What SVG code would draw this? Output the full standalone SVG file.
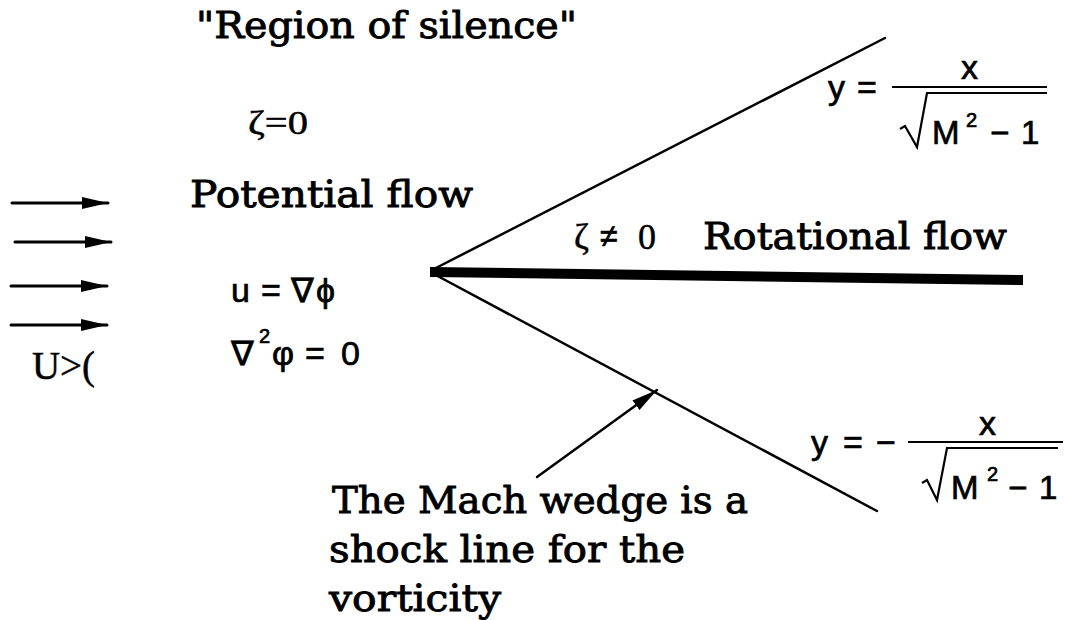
<svg xmlns="http://www.w3.org/2000/svg" width="1065" height="620" viewBox="0 0 1065 620">
<defs>
<style>
.txt{font-family:"DejaVu Serif","Liberation Serif",serif;font-size:38px;fill:#000;stroke:#000;stroke-width:0.9px}
.ser{font-family:"Liberation Serif","DejaVu Serif",serif;fill:#000;stroke:#000;stroke-width:0.5px}
.math{font-family:"Liberation Sans","DejaVu Sans",sans-serif;fill:#000;stroke:#000;stroke-width:0.7px}
.ln{stroke:#000;stroke-width:2.5;fill:none;stroke-linecap:round}
.fl{stroke:#000;stroke-width:3;fill:none;stroke-linecap:round}
.bar{stroke:#000;stroke-width:2.2;fill:none}
</style>
<marker id="ah" markerUnits="userSpaceOnUse" markerWidth="28" markerHeight="14" refX="26" refY="7" orient="auto">
<path d="M0,1 L26,7 L0,13 Z" fill="#000"/>
</marker>
</defs>
<rect width="1065" height="620" fill="#fff"/>

<g id="wedge">
<line class="ln" x1="432" y1="270" x2="885" y2="38"/>
<line class="ln" x1="432" y1="273" x2="877" y2="511"/>
<path d="M430,267 L1023,275 L1023,285 L430,277 Z" fill="#000"/>
</g>

<g id="connectors">
<line class="fl" x1="12" y1="203" x2="108" y2="203" marker-end="url(#ah)"/>
<line class="fl" x1="15" y1="242" x2="111" y2="242" marker-end="url(#ah)"/>
<line class="fl" x1="11" y1="286" x2="107" y2="286" marker-end="url(#ah)"/>
<line class="fl" x1="11" y1="325" x2="107" y2="325" marker-end="url(#ah)"/>
<line class="ln" x1="537" y1="477" x2="657" y2="390" marker-end="url(#ah)"/>
</g>

<g id="region-label">
<text class="txt" x="196" y="38" textLength="381" lengthAdjust="spacingAndGlyphs">"Region of silence"</text>
</g>
<g id="zeta-zero">
<text class="ser" x="248" y="134" font-size="34" textLength="60" lengthAdjust="spacingAndGlyphs">ζ=0</text>
</g>
<g id="potential-label">
<text class="txt" x="190" y="207" textLength="283" lengthAdjust="spacingAndGlyphs">Potential flow</text>
</g>
<g id="u-label">
<text class="ser" x="32" y="379" font-size="40" textLength="63" lengthAdjust="spacingAndGlyphs">U&gt;(</text>
</g>
<g id="potential-eq">
<text class="math" y="302" font-size="34"><tspan x="231">u</tspan><tspan x="261">=</tspan><tspan x="291">∇</tspan><tspan x="316">ϕ</tspan></text>
<text class="math" y="365" font-size="34"><tspan x="231">∇</tspan><tspan x="272">φ</tspan><tspan x="305">=</tspan><tspan x="341">0</tspan></text>
<text class="math" x="259" y="343" font-size="20">2</text>
</g>
<g id="rotational-label">
<text class="ser" x="574" y="249" font-size="36">ζ</text>
<text class="math" x="600" y="247" font-size="32">≠</text>
<text class="ser" x="638" y="249" font-size="36">0</text>
<text class="txt" x="703" y="249" textLength="304" lengthAdjust="spacingAndGlyphs">Rotational flow</text>
</g>
<g id="upper-eq">
<text class="math" y="99" font-size="34"><tspan x="828">y</tspan><tspan x="857">=</tspan></text>
<text class="math" x="961" y="79" font-size="34">x</text>
<line class="bar" x1="892" y1="87" x2="1047" y2="87"/>
<path class="bar" d="M900,129 L905,126 L917,147 L927,93 L1047,93"/>
<text class="math" x="932" y="144" font-size="33">M</text>
<text class="math" x="966" y="127" font-size="20">2</text>
<text class="math" y="144" font-size="33"><tspan x="990">−</tspan><tspan x="1021">1</tspan></text>
</g>
<g id="lower-eq">
<text class="math" y="454" font-size="34"><tspan x="811">y</tspan><tspan x="843">=</tspan><tspan x="876">−</tspan></text>
<text class="math" x="979" y="435" font-size="34">x</text>
<line class="bar" x1="908" y1="442" x2="1063" y2="442"/>
<path class="bar" d="M922,483 L927,480 L937,500 L947,448 L1058,448"/>
<text class="math" x="951" y="499" font-size="33">M</text>
<text class="math" x="987" y="481" font-size="20">2</text>
<text class="math" y="499" font-size="33"><tspan x="1008">−</tspan><tspan x="1039">1</tspan></text>
</g>
<g id="mach-note">
<text class="txt" x="332" y="513" textLength="416" lengthAdjust="spacingAndGlyphs">The Mach wedge is a</text>
<text class="txt" x="329" y="562" textLength="356" lengthAdjust="spacingAndGlyphs">shock line for the</text>
<text class="txt" x="329" y="611" textLength="172" lengthAdjust="spacingAndGlyphs">vorticity</text>
</g>
</svg>
